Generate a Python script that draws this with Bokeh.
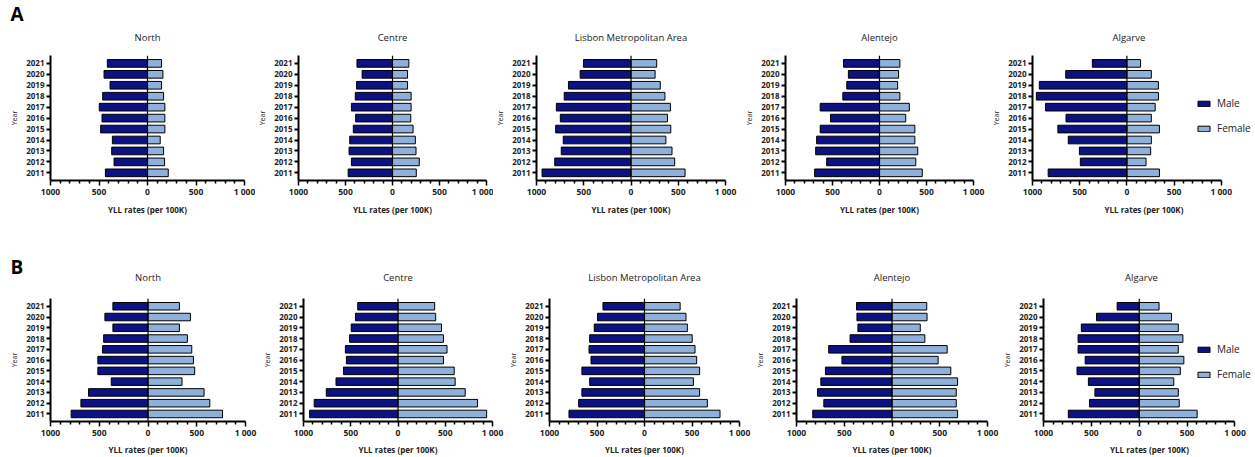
from bokeh.plotting import figure
from bokeh.layouts import column, row
from bokeh.models import (ColumnDataSource, Span, Legend, LegendItem, Title,
                          FixedTicker, CustomJSTickFormatter, Range1d)
from bokeh.embed import file_html
from bokeh.resources import INLINE

# ---------------- data (years 2011 -> 2021) ----------------
years = list(range(2011, 2022))
regions = ["North", "Centre", "Lisbon Metropolitan Area", "Alentejo", "Algarve"]

# Panel A
a_north_male = [434, 345, 369, 362, 483, 469, 497, 462, 386, 448, 414]
a_north_female = [214, 176, 166, 131, 179, 179, 179, 166, 145, 159, 145]
a_centre_male = [472, 437, 462, 455, 417, 392, 437, 396, 382, 323, 378]
a_centre_female = [253, 285, 250, 243, 219, 194, 198, 198, 160, 160, 174]
a_lisbon_male = [941, 807, 738, 717, 797, 748, 790, 707, 662, 538, 503]
a_lisbon_female = [572, 462, 434, 369, 421, 386, 417, 359, 310, 255, 272]
a_alentejo_male = [690, 562, 679, 669, 631, 521, 631, 390, 348, 331, 383]
a_alentejo_female = [455, 386, 407, 376, 376, 279, 317, 217, 193, 203, 217]
a_algarve_male = [834, 493, 503, 621, 731, 645, 862, 959, 928, 648, 366]
a_algarve_female = [345, 203, 252, 259, 345, 259, 300, 334, 334, 259, 145]

# Panel B
b_north_male = [788, 688, 610, 377, 514, 514, 466, 455, 360, 442, 360]
b_north_female = [764, 634, 575, 349, 479, 466, 449, 404, 322, 435, 322]
b_centre_male = [935, 887, 759, 656, 577, 546, 557, 512, 495, 450, 426]
b_centre_female = [938, 842, 711, 605, 595, 481, 519, 481, 460, 399, 388]
b_lisbon_male = [795, 693, 659, 577, 659, 563, 584, 577, 529, 495, 437]
b_lisbon_female = [795, 662, 580, 515, 580, 549, 532, 502, 451, 437, 375]
b_alentejo_male = [830, 714, 779, 745, 697, 524, 663, 439, 357, 367, 371]
b_alentejo_female = [687, 673, 673, 687, 616, 483, 578, 344, 296, 367, 364]
b_algarve_male = [741, 520, 463, 531, 650, 565, 639, 639, 605, 446, 231]
b_algarve_female = [605, 418, 408, 361, 429, 466, 408, 456, 408, 337, 207]

x_ticks = [-1000, -500, 0, 500, 1000]
x_minor = [v for v in range(-900, 1000, 100) if v % 500 != 0]

panel_a = [(regions[0], a_north_male, a_north_female),
           (regions[1], a_centre_male, a_centre_female),
           (regions[2], a_lisbon_male, a_lisbon_female),
           (regions[3], a_alentejo_male, a_alentejo_female),
           (regions[4], a_algarve_male, a_algarve_female)]
panel_b = [(regions[0], b_north_male, b_north_female),
           (regions[1], b_centre_male, b_centre_female),
           (regions[2], b_lisbon_male, b_lisbon_female),
           (regions[3], b_alentejo_male, b_alentejo_female),
           (regions[4], b_algarve_male, b_algarve_female)]

FONT = "Open Sans"
MALE_C = "#0d1282"
FEMALE_C = "#8eb0da"
TXT = "#222222"


def make_panel(title, male, female, width, height, bl, br, bt, bb,
               title_standoff, label_standoff, axis_px=None, legend_loc=None,
               letter=None):
    frame_w = width - bl - br
    x_end = 1000
    p = figure(width=width, height=height, title=None,
               min_border_left=bl, min_border_right=br,
               min_border_top=bt, min_border_bottom=bb,
               x_range=Range1d(-1000, 1000), y_range=Range1d(2010.3, 2021.72),
               output_backend="svg", toolbar_location=None, tools="")
    if axis_px is not None:
        # frame wider than the axis (room for the legend): extend the range
        x_end = -1000 + frame_w * 2000.0 / axis_px
        p.x_range = Range1d(-1000, x_end)
        # centre the title over the axis, not over the wider frame
        est_w = 33
        ttl = Title(text=title, align="left", offset=axis_px / 2.0 - est_w / 2.0,
                    text_font=FONT, text_font_size="9.5px", text_font_style="normal",
                    text_color=TXT, standoff=title_standoff)
    else:
        ttl = Title(text=title, align="center",
                    text_font=FONT, text_font_size="9.5px", text_font_style="normal",
                    text_color=TXT, standoff=title_standoff)
    p.add_layout(ttl, "above")
    if letter is not None:
        txt, loff, lstand = letter
        p.add_layout(Title(text=txt, align="left", offset=loff, text_font=FONT,
                           text_font_size="19px", text_font_style="bold",
                           text_color="black", standoff=lstand), "above")
    p.outline_line_color = None
    p.grid.visible = False

    src = ColumnDataSource(dict(year=years, male_left=[-v for v in male], female=female))
    rm = p.hbar(y="year", left="male_left", right=0, height=0.7, source=src,
                fill_color=MALE_C, line_color="black", line_width=1)
    rf = p.hbar(y="year", left=0, right="female", height=0.7, source=src,
                fill_color=FEMALE_C, line_color="black", line_width=1)
    p.add_layout(Span(location=0, dimension="height", line_color="black", line_width=1.2))

    xa = p.xaxis[0]
    xa.bounds = (-1000, 1000)
    xa.ticker = FixedTicker(ticks=x_ticks, minor_ticks=x_minor)
    xa.formatter = CustomJSTickFormatter(
        code='return tick >= 1000 ? "1 000" : String(Math.abs(tick));')
    xa.axis_line_width = 2
    xa.major_tick_in = 0
    xa.major_tick_out = 5
    xa.major_tick_line_width = 1.5
    xa.minor_tick_in = 0
    xa.minor_tick_out = 3
    xa.minor_tick_line_width = 1.5
    xa.major_label_text_font = FONT
    xa.major_label_text_font_size = "8.5px"
    xa.major_label_text_font_style = "bold"
    xa.major_label_text_color = TXT
    xa.major_label_standoff = 0
    xa.axis_label = "YLL rates (per 100K)"
    xa.axis_label_text_font = FONT
    xa.axis_label_text_font_size = "8px"
    xa.axis_label_text_font_style = "bold"
    xa.axis_label_text_color = TXT
    xa.axis_label_standoff = label_standoff

    ya = p.yaxis[0]
    ya.ticker = FixedTicker(ticks=years)
    ya.axis_line_width = 2
    ya.major_tick_in = 0
    ya.major_tick_out = 4
    ya.major_tick_line_width = 2
    ya.minor_tick_line_color = None
    ya.major_label_text_font = FONT
    ya.major_label_text_font_size = "8px"
    ya.major_label_text_font_style = "bold"
    ya.major_label_text_color = TXT
    ya.major_label_standoff = 2
    ya.axis_label = "Year"
    ya.axis_label_text_font = FONT
    ya.axis_label_text_font_size = "7px"
    ya.axis_label_text_font_style = "normal"
    ya.axis_label_text_color = TXT
    ya.axis_label_standoff = 4

    if legend_loc is not None:
        lg = Legend(items=[LegendItem(label="Male", renderers=[rm]),
                           LegendItem(label="Female", renderers=[rf])],
                    location=legend_loc, padding=0, margin=0, spacing=11,
                    glyph_width=15, glyph_height=7, label_height=12, label_standoff=6,
                    label_text_font=FONT, label_text_font_size="10px",
                    label_text_color=TXT,
                    background_fill_alpha=0, border_line_alpha=0)
        p.add_layout(lg)
    return p


# row A geometry (page x = picture x)
a_widths = [255, 238, 249, 247, 266]
a_left = [50, 38, 38, 38, 38]
a_right = [11, 7, 17, 16, 0]
# row B geometry
b_widths = [260, 246, 247, 247, 255]
b_left = [50, 38, 38, 38, 38]
b_right = [15, 14, 14, 13, 0]

row_a = []
for i, (t, m, f) in enumerate(panel_a):
    row_a.append(make_panel(t, m, f, a_widths[i], 222, a_left[i], a_right[i], 55, 42,
                            23, 4,
                            axis_px=193 if i == 4 else None,
                            legend_loc=(164, 45) if i == 4 else None,
                            letter=("A", -40, -18) if i == 0 else None))
row_b = []
for i, (t, m, f) in enumerate(panel_b):
    row_b.append(make_panel(t, m, f, b_widths[i], 235, b_left[i], b_right[i], 76, 35,
                            30, 3,
                            axis_px=196 if i == 4 else None,
                            legend_loc=(153, 40) if i == 4 else None,
                            letter=("B", -40, -52) if i == 0 else None))

layout = column(row(*row_a, spacing=0), row(*row_b, spacing=0), spacing=0)
open("out.html", "w").write(file_html(layout, INLINE))
